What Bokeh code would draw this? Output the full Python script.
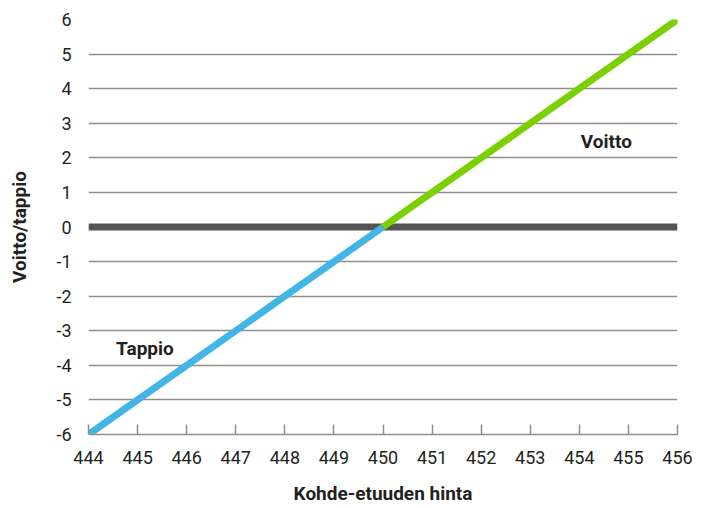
from bokeh.plotting import figure
from bokeh.models import FixedTicker, ColumnDataSource
from bokeh.core.properties import value
from bokeh.embed import file_html
from bokeh.resources import INLINE

# Data
price = [444, 445, 446, 447, 448, 449, 450, 451, 452, 453, 454, 455, 456]
result = [-6, -5, -4, -3, -2, -1, 0, 1, 2, 3, 4, 5, 6]
y_ticks = [-6, -5, -4, -3, -2, -1, 0, 1, 2, 3, 4, 5, 6]
x_ticks = price
label_x = [454.55, 445.15]
label_y = [2.47, -3.5]
label_text = ["Voitto", "Tappio"]

loss_x = [p for p, r in zip(price, result) if r <= 0]
loss_y = [r for r in result if r <= 0]
gain_x = [p for p, r in zip(price, result) if r >= 0]
gain_y = [r for r in result if r >= 0]

FONT = "Roboto"
TXT = "#231f20"
GRID = "#8e8e8e"

p = figure(frame_width=589, frame_height=415,
           x_range=(price[0], price[-1]), y_range=(y_ticks[0], y_ticks[-1]),
           output_backend="svg", toolbar_location=None,
           min_border_left=88, min_border_right=26, min_border_top=19, min_border_bottom=72)
p.outline_line_color = None
p.background_fill_color = "white"

# grid
p.xgrid.grid_line_color = None
p.ygrid.ticker = FixedTicker(ticks=y_ticks)
p.ygrid.grid_line_color = GRID
p.ygrid.grid_line_width = 1.3

# y axis
p.yaxis.ticker = FixedTicker(ticks=y_ticks)
p.yaxis.major_label_overrides = {t: str(t) for t in y_ticks}
p.yaxis.axis_line_color = None
p.yaxis.major_tick_line_color = None
p.yaxis.minor_tick_line_color = None
p.yaxis.major_label_standoff = 11
p.yaxis.major_label_text_font = FONT
p.yaxis.major_label_text_font_size = "18px"
p.yaxis.major_label_text_color = TXT
p.yaxis.axis_label = "Voitto/tappio"
p.yaxis.axis_label_text_font = FONT
p.yaxis.axis_label_text_font_style = "bold"
p.yaxis.axis_label_text_font_size = "19px"
p.yaxis.axis_label_text_color = TXT
p.yaxis.axis_label_standoff = 22

# x axis
p.xaxis.ticker = FixedTicker(ticks=x_ticks)
p.xaxis.major_label_overrides = {t: str(t) for t in x_ticks}
p.xaxis.axis_line_color = GRID
p.xaxis.axis_line_width = 1.3
p.xaxis.major_tick_line_color = GRID
p.xaxis.major_tick_line_width = 1.5
p.xaxis.major_tick_in = 10
p.xaxis.major_tick_out = 0
p.xaxis.minor_tick_line_color = None
p.xaxis.major_label_standoff = 16
p.xaxis.major_label_text_font = FONT
p.xaxis.major_label_text_font_size = "18px"
p.xaxis.major_label_text_color = TXT
p.xaxis.axis_label = "Kohde-etuuden hinta"
p.xaxis.axis_label_text_font = FONT
p.xaxis.axis_label_text_font_style = "bold"
p.xaxis.axis_label_text_font_size = "19px"
p.xaxis.axis_label_text_color = TXT
p.xaxis.axis_label_standoff = 15

# zero line
p.line(x=[price[0], price[-1]], y=[0, 0], line_color="#545454", line_width=7)

# payoff lines
p.line(x=loss_x, y=loss_y, line_color="#41b6e6", line_width=7)
p.line(x=gain_x, y=gain_y, line_color="#7ad000", line_width=7)

# annotations
src = ColumnDataSource(dict(x=label_x, y=label_y, t=label_text))
p.text(x="x", y="y", text="t", source=src, text_align="center", text_baseline="middle",
       text_font=value(FONT), text_font_style="bold", text_font_size="19px", text_color=TXT)

open("out.html", "w").write(file_html(p, INLINE))
